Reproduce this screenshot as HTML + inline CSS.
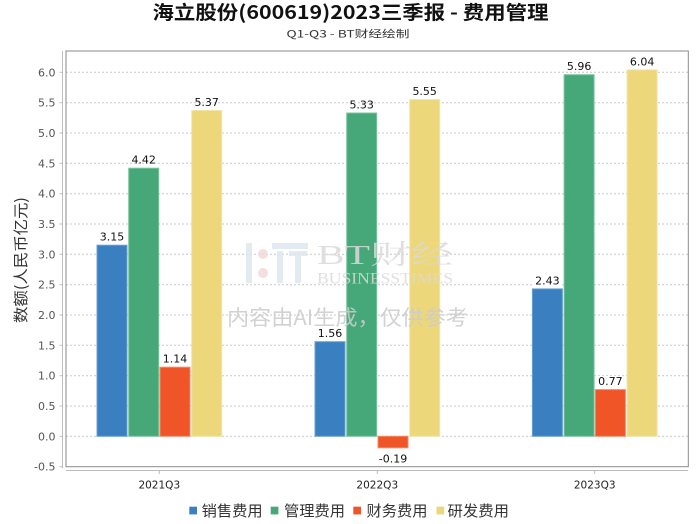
<!DOCTYPE html>
<html><head><meta charset="utf-8"><style>
html,body{margin:0;padding:0;background:#fff;}
svg{display:block;}
text{font-family:"DejaVu Sans","Liberation Sans","Noto Sans CJK SC",sans-serif;}
.cjk{font-family:"Noto Sans CJK SC","WenQuanYi Zen Hei",sans-serif;}
.tick{font-size:11px;fill:#555;text-anchor:end;}
.val{font-size:11px;fill:#111;text-anchor:middle;}
.grid{stroke:#c8c8c8;stroke-width:1;stroke-dasharray:2,2;}
</style></head><body>
<svg width="700" height="524" viewBox="0 0 700 524" xmlns="http://www.w3.org/2000/svg">
<rect width="700" height="524" fill="#fff"/>
<!-- title -->
<text class="cjk" x="350.5" y="19" font-size="19" font-weight="bold" fill="#111" text-anchor="middle" textLength="396" lengthAdjust="spacingAndGlyphs">海立股份(600619)2023三季报 - 费用管理</text>
<text class="cjk" x="348" y="37.5" font-size="10" fill="#333" text-anchor="middle" textLength="123" lengthAdjust="spacingAndGlyphs">Q1-Q3 - BT财经绘制</text>

<!-- gridlines -->
<g class="grid">
<line x1="66" x2="688" y1="72.3" y2="72.3"/>
<line x1="66" x2="688" y1="102.7" y2="102.7"/>
<line x1="66" x2="688" y1="133" y2="133"/>
<line x1="66" x2="688" y1="163.3" y2="163.3"/>
<line x1="66" x2="688" y1="193.7" y2="193.7"/>
<line x1="66" x2="688" y1="224" y2="224"/>
<line x1="66" x2="688" y1="254.3" y2="254.3"/>
<line x1="66" x2="688" y1="284.7" y2="284.7"/>
<line x1="66" x2="688" y1="315" y2="315"/>
<line x1="66" x2="688" y1="345.3" y2="345.3"/>
<line x1="66" x2="688" y1="375.7" y2="375.7"/>
<line x1="66" x2="688" y1="406" y2="406"/>
<line x1="66" x2="688" y1="436.3" y2="436.3"/>
</g>

<!-- bars -->
<g stroke-width="1">
<rect x="97" y="245.2" width="30" height="191.1" fill="#3a7fbf" stroke="#6aa0d2"/>
<rect x="128.7" y="168.2" width="30" height="268.1" fill="#46a878" stroke="#7cc4a0"/>
<rect x="160" y="367.2" width="30" height="69.1" fill="#f05528" stroke="#f48a68"/>
<rect x="191.7" y="110.5" width="30" height="325.8" fill="#ecd77a" stroke="#f3e4a6"/>

<rect x="315" y="341.7" width="30" height="94.6" fill="#3a7fbf" stroke="#6aa0d2"/>
<rect x="346.7" y="113" width="30" height="323.3" fill="#46a878" stroke="#7cc4a0"/>
<rect x="378" y="436.3" width="30" height="11.5" fill="#f05528" stroke="#f48a68"/>
<rect x="409.7" y="99.6" width="30" height="336.7" fill="#ecd77a" stroke="#f3e4a6"/>

<rect x="532.4" y="288.9" width="30" height="147.4" fill="#3a7fbf" stroke="#6aa0d2"/>
<rect x="564.1" y="74.7" width="30" height="361.6" fill="#46a878" stroke="#7cc4a0"/>
<rect x="595.4" y="389.6" width="30" height="46.7" fill="#f05528" stroke="#f48a68"/>
<rect x="627.1" y="69.9" width="30" height="366.4" fill="#ecd77a" stroke="#f3e4a6"/>
</g>

<!-- watermark (on top of bars, semi-transparent) -->
<g>
<rect x="246" y="243" width="6" height="40" fill="#dfe6ee" opacity="0.85"/>
<circle cx="263" cy="254" r="5" fill="#f3d8d8" opacity="0.85"/>
<circle cx="263" cy="273" r="5" fill="#f3d8d8" opacity="0.85"/>
<rect x="272" y="243" width="36" height="6" fill="#dfe6ee" opacity="0.85"/>
<rect x="277" y="251" width="6" height="32" fill="#dfe6ee" opacity="0.85"/>
<rect x="289" y="251" width="18" height="5" fill="#dfe6ee" opacity="0.85"/>
<rect x="295" y="256" width="6" height="27" fill="#dfe6ee" opacity="0.85"/>
<text x="317" y="264" font-size="27" fill="#dadada" opacity="0.85" textLength="136" lengthAdjust="spacingAndGlyphs" style="font-family:'Liberation Serif','Noto Serif CJK SC',serif">BT财经</text>
<text x="317" y="283.5" font-size="16" fill="#dadada" opacity="0.85" textLength="136" lengthAdjust="spacingAndGlyphs" style="font-family:'Liberation Serif',serif">BUSINESSTIMES</text>
<text class="cjk" x="227" y="325" font-size="21" fill="#cccccc" opacity="0.88" textLength="241" lengthAdjust="spacingAndGlyphs">内容由AI生成，仅供参考</text>
</g>

<!-- value labels -->
<g>
<rect x="99" y="231" width="26" height="11" fill="#fff"/>
<rect x="162" y="353" width="26" height="11" fill="#fff"/>
<rect x="317" y="328" width="26" height="11" fill="#fff"/>
<rect x="534" y="275" width="26" height="11" fill="#fff"/>
<rect x="597" y="376" width="26" height="11" fill="#fff"/>
</g>
<text class="val" x="112" y="240.7">3.15</text>
<text class="val" x="143.7" y="163.7">4.42</text>
<text class="val" x="175" y="362.7">1.14</text>
<text class="val" x="206.7" y="106">5.37</text>
<text class="val" x="330" y="337.2">1.56</text>
<text class="val" x="361.7" y="108.5">5.33</text>
<text class="val" x="393" y="462.5">-0.19</text>
<text class="val" x="424.7" y="95.1">5.55</text>
<text class="val" x="547.4" y="284.4">2.43</text>
<text class="val" x="579.1" y="70.2">5.96</text>
<text class="val" x="610.4" y="385.1">0.77</text>
<text class="val" x="642.1" y="65.4">6.04</text>

<!-- plot frame -->
<rect x="66" y="51" width="622.3" height="415.7" fill="none" stroke="#8a8a8a" stroke-width="1"/>
<!-- axes -->
<line x1="62.5" y1="51" x2="62.5" y2="468" stroke="#bdbdbd" stroke-width="1"/>
<line x1="66" y1="470.5" x2="688" y2="470.5" stroke="#bdbdbd" stroke-width="1"/>
<g stroke="#bdbdbd" stroke-width="1">
<line x1="159.3" y1="470.5" x2="159.3" y2="474"/>
<line x1="377.3" y1="470.5" x2="377.3" y2="474"/>
<line x1="594.7" y1="470.5" x2="594.7" y2="474"/>
<line x1="59.5" x2="62.5" y1="72.3" y2="72.3"/>
<line x1="59.5" x2="62.5" y1="102.7" y2="102.7"/>
<line x1="59.5" x2="62.5" y1="133" y2="133"/>
<line x1="59.5" x2="62.5" y1="163.3" y2="163.3"/>
<line x1="59.5" x2="62.5" y1="193.7" y2="193.7"/>
<line x1="59.5" x2="62.5" y1="224" y2="224"/>
<line x1="59.5" x2="62.5" y1="254.3" y2="254.3"/>
<line x1="59.5" x2="62.5" y1="284.7" y2="284.7"/>
<line x1="59.5" x2="62.5" y1="315" y2="315"/>
<line x1="59.5" x2="62.5" y1="345.3" y2="345.3"/>
<line x1="59.5" x2="62.5" y1="375.7" y2="375.7"/>
<line x1="59.5" x2="62.5" y1="406" y2="406"/>
<line x1="59.5" x2="62.5" y1="436.3" y2="436.3"/>
<line x1="59.5" x2="62.5" y1="466.7" y2="466.7"/>
</g>

<!-- y tick labels -->
<text class="tick" x="55.5" y="76.3">6.0</text>
<text class="tick" x="55.5" y="106.7">5.5</text>
<text class="tick" x="55.5" y="137">5.0</text>
<text class="tick" x="55.5" y="167.3">4.5</text>
<text class="tick" x="55.5" y="197.7">4.0</text>
<text class="tick" x="55.5" y="228">3.5</text>
<text class="tick" x="55.5" y="258.3">3.0</text>
<text class="tick" x="55.5" y="288.7">2.5</text>
<text class="tick" x="55.5" y="319">2.0</text>
<text class="tick" x="55.5" y="349.3">1.5</text>
<text class="tick" x="55.5" y="379.7">1.0</text>
<text class="tick" x="55.5" y="410">0.5</text>
<text class="tick" x="55.5" y="440.3">0.0</text>
<text class="tick" x="55.5" y="470.7">-0.5</text>

<!-- x labels -->
<text x="159.3" y="488.3" font-size="10.5" fill="#222" text-anchor="middle" textLength="41.7" lengthAdjust="spacingAndGlyphs">2021Q3</text>
<text x="377.3" y="488.3" font-size="10.5" fill="#222" text-anchor="middle" textLength="41.7" lengthAdjust="spacingAndGlyphs">2022Q3</text>
<text x="594.7" y="488.3" font-size="10.5" fill="#222" text-anchor="middle" textLength="41.7" lengthAdjust="spacingAndGlyphs">2023Q3</text>

<!-- y axis title -->
<text class="cjk" transform="translate(26,260) rotate(-90)" font-size="15" fill="#333" text-anchor="middle" textLength="126" lengthAdjust="spacingAndGlyphs">数额(人民币亿元)</text>

<!-- legend -->
<rect x="189.3" y="506.7" width="7.7" height="7.7" fill="#3a7fbf"/>
<text class="cjk" x="201.7" y="516" font-size="15" fill="#333" textLength="61" lengthAdjust="spacingAndGlyphs">销售费用</text>
<rect x="270.7" y="506.7" width="7.7" height="7.7" fill="#46a878"/>
<text class="cjk" x="284" y="516" font-size="15" fill="#333" textLength="61" lengthAdjust="spacingAndGlyphs">管理费用</text>
<rect x="353.3" y="506.7" width="7.7" height="7.7" fill="#f05528"/>
<text class="cjk" x="366.5" y="516" font-size="15" fill="#333" textLength="61" lengthAdjust="spacingAndGlyphs">财务费用</text>
<rect x="436.5" y="506.7" width="7.7" height="7.7" fill="#ecd77a"/>
<text class="cjk" x="447.5" y="516" font-size="15" fill="#333" textLength="61.5" lengthAdjust="spacingAndGlyphs">研发费用</text>
</svg>
</body></html>
